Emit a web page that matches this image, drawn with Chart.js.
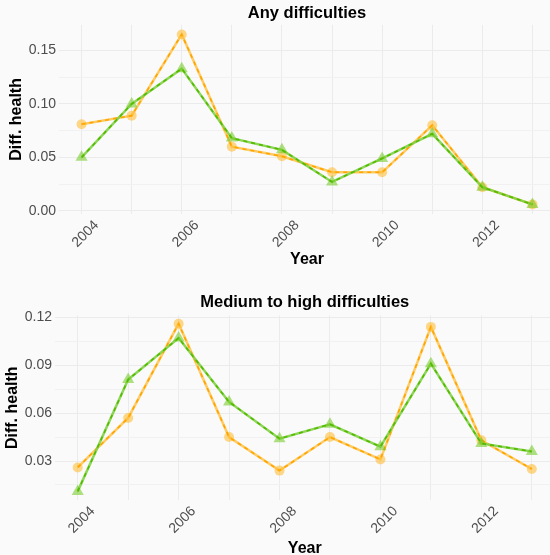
<!DOCTYPE html>
<html>
<head>
<meta charset="utf-8">
<script src="https://cdn.jsdelivr.net/npm/chart.js@4/dist/chart.umd.min.js"></script>
<style>
  html, body { margin: 0; padding: 0; background: #fafafa; overflow: hidden; }
  .wrap { position: absolute; left: 0; width: 550px; overflow: hidden; }
  #w1 { top: 0; height: 280px; }
  #w2 { top: 280px; height: 275px; }
  canvas { display: block; }
</style>
</head>
<body>
<div class="wrap" id="w1"><canvas id="anyChart" width="562" height="280"></canvas></div>
<div class="wrap" id="w2"><canvas id="medChart" width="562" height="280"></canvas></div>
<script>
// years on the x axis
var years = [2004, 2005, 2006, 2007, 2008, 2009, 2010, 2011, 2012, 2013];

// "Any difficulties"
var anyOrange = [0.081, 0.089, 0.165, 0.060, 0.051, 0.036, 0.036, 0.080, 0.022, 0.006];
var anyGreen  = [0.050, 0.100, 0.133, 0.068, 0.057, 0.027, 0.049, 0.072, 0.022, 0.006];

// "Medium to high difficulties"
var medOrange = [0.026, 0.057, 0.116, 0.045, 0.024, 0.045, 0.031, 0.114, 0.043, 0.025];
var medGreen  = [0.011, 0.081, 0.107, 0.067, 0.044, 0.053, 0.039, 0.091, 0.041, 0.036];

// tick labels
var anyTicks = [0.00, 0.05, 0.10, 0.15];
var medTicks = [0.03, 0.06, 0.09, 0.12];
var yearTicks = [2004, 2006, 2008, 2010, 2012];

function pts(vals) {
    return years.map(function (y, i) { return { x: y, y: vals[i] }; });
}

function isIn(list, v) {
    for (var i = 0; i < list.length; i++) {
        if (Math.abs(list[i] - v) < 1e-6) return true;
    }
    return false;
}

function seriesSets(vals, solid, dash, fill, style, radius, ord) {
    return [
        {
            label: 'line',
            data: pts(vals),
            borderColor: solid,
            borderWidth: 2.5,
            pointStyle: style,
            pointRadius: radius,
            pointBackgroundColor: fill,
            pointBorderWidth: 0,
            pointBorderColor: 'rgba(0,0,0,0)',
            order: ord + 1
        },
        {
            label: 'dash',
            data: pts(vals),
            borderColor: dash,
            borderWidth: 1.6,
            borderDash: [4, 4],
            pointRadius: 0,
            order: ord
        }
    ];
}

function drawChart(id, title, orange, green, yTicks, opt) {
    var ctx = document.getElementById(id).getContext('2d');
    var datasets = []
        .concat(seriesSets(green, 'rgba(130,210,70,0.9)', '#55bb00', 'rgba(110,200,30,0.55)', 'triangle', 7, 1))
        .concat(seriesSets(orange, 'rgba(255,200,90,0.95)', '#ffa500', 'rgba(255,185,40,0.55)', 'circle', 5, 3));

    return new Chart(ctx, {
        type: 'line',
        data: { datasets: datasets },
        options: {
            responsive: false,
            animation: false,
            devicePixelRatio: 1,
            layout: { padding: { left: 0, right: opt.padRight, top: 0, bottom: 0 } },
            plugins: {
                legend: { display: false },
                tooltip: { enabled: false },
                title: {
                    display: true,
                    fullSize: false,
                    text: title,
                    color: '#000',
                    font: { family: 'Liberation Sans, Arial, sans-serif', size: 16.5, weight: 'bold' },
                    padding: opt.titlePad
                }
            },
            scales: {
                x: {
                    type: 'linear',
                    min: 2003.55,
                    max: 2013.45,
                    border: { display: false },
                    grid: { color: '#ebebeb', lineWidth: 1, drawTicks: false },
                    ticks: {
                        stepSize: 1,
                        includeBounds: false,
                        autoSkip: false,
                        minRotation: 45,
                        maxRotation: 45,
                        padding: opt.xTickPad,
                        labelOffset: opt.labelOffset,
                        color: '#4d4d4d',
                        font: { family: 'Liberation Sans, Arial, sans-serif', size: 14 },
                        callback: function (v) { return isIn(yearTicks, v) ? String(v) : ''; }
                    },
                    title: {
                        display: true,
                        text: 'Year',
                        color: '#000',
                        font: { family: 'Liberation Sans, Arial, sans-serif', size: 16, weight: 'bold' },
                        padding: { top: 0, bottom: opt.xTitlePad }
                    },
                    afterFit: function (s) { s.height = opt.xHeight; }
                },
                y: {
                    min: opt.yMin,
                    max: opt.yMax,
                    border: { display: false },
                    grid: {
                        drawTicks: false,
                        lineWidth: 1,
                        color: function (c) { return isIn(yTicks, c.tick.value) ? '#ebebeb' : '#f1f1f1'; }
                    },
                    ticks: {
                        stepSize: opt.step,
                        includeBounds: false,
                        autoSkip: false,
                        padding: 3,
                        color: '#4d4d4d',
                        font: { family: 'Liberation Sans, Arial, sans-serif', size: 14 },
                        callback: function (v) { return isIn(yTicks, v) ? v.toFixed(2) : ''; }
                    },
                    title: {
                        display: true,
                        text: 'Diff. health',
                        color: '#000',
                        font: { family: 'Liberation Sans, Arial, sans-serif', size: 16, weight: 'bold' },
                        padding: { top: opt.yTitlePad, bottom: 0 }
                    },
                    afterFit: function (s) { s.width = opt.yWidth; }
                }
            }
        }
    });
}

drawChart('anyChart', 'Any difficulties', anyOrange, anyGreen, anyTicks, {
    yMin: -0.003, yMax: 0.174, step: 0.025,
    yWidth: 59, xHeight: 66, padRight: 6,
    titlePad: { top: 4, bottom: 1 },
    xTitlePad: 11, yTitlePad: 6.9,
    xTickPad: 3, labelOffset: 15
});

drawChart('medChart', 'Medium to high difficulties', medOrange, medGreen, medTicks, {
    yMin: 0.0056, yMax: 0.1212, step: 0.015,
    yWidth: 55, xHeight: 60, padRight: 7.5,
    titlePad: { top: 12.8, bottom: 2.8 },
    xTitlePad: 2, yTitlePad: 2.9,
    xTickPad: 3, labelOffset: 15
});
</script>
</body>
</html>
